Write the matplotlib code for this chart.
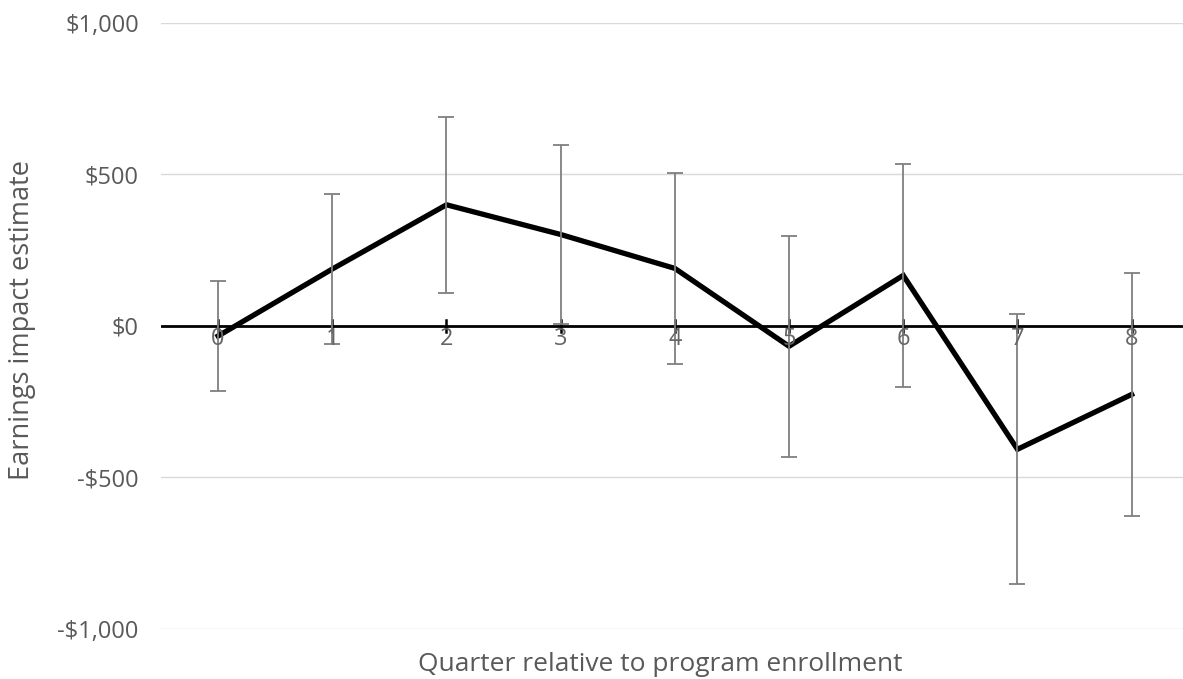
import matplotlib
matplotlib.use("Agg")
import matplotlib.pyplot as plt
from matplotlib.ticker import FuncFormatter

quarters = [0, 1, 2, 3, 4, 5, 6, 7, 8]
estimates = [-34, 187, 399, 301, 189, -68, 166, -408, -227]
ci_half = [182, 248, 291, 294, 315, 364, 369, 446, 402]
y_ticks = [-1000, -500, 0, 500, 1000]

plt.rcParams['font.family'] = ['Open Sans', 'DejaVu Sans']
text_color = '#595959'

fig = plt.figure(figsize=(11.83, 6.79), dpi=100)
ax = fig.add_axes([0.1361, 0.0741, 0.8639, 0.8925])

ax.set_xlim(-0.5, 8.45)
ax.set_ylim(-1000, 1000)

for yv in y_ticks:
    if yv != 0:
        ax.axhline(yv, color='#d9d9d9', lw=1.0, zorder=1)
ax.axhline(0, color='black', lw=2.0, zorder=2)

ax.plot(quarters, estimates, color='black', lw=3.8, zorder=3, solid_joinstyle='miter')
ax.errorbar(quarters, estimates, yerr=ci_half, fmt='none', ecolor='#7f7f7f',
            elinewidth=1.3, capsize=5.5, capthick=1.3, zorder=4)

for s in ['left', 'right', 'top', 'bottom']:
    ax.spines[s].set_visible(False)

ax.set_yticks(y_ticks)
ax.yaxis.set_major_formatter(FuncFormatter(
    lambda v, p: ('-$' if v < 0 else '$') + f"{abs(int(v)):,}"))
ax.tick_params(axis='y', length=0, pad=16, labelsize=17, labelcolor=text_color)

ax.set_xticks(quarters)
ax.tick_params(axis='x', length=0, labelbottom=False)
for q in quarters:
    ax.plot([q, q], [-20, 20], color='black', lw=1.8, zorder=2.5)
    ax.text(q, -3, str(q), ha='center', va='top', fontsize=17, color='#666666',
            zorder=5)

fig.text(0.0186, 0.528, 'Earnings impact estimate', rotation=90, ha='center',
         va='center', fontsize=19.5, color=text_color)
fig.text(0.558, 0.021, 'Quarter relative to program enrollment', ha='center',
         va='center', fontsize=19, color=text_color)

fig.savefig('out.png', dpi=100)
